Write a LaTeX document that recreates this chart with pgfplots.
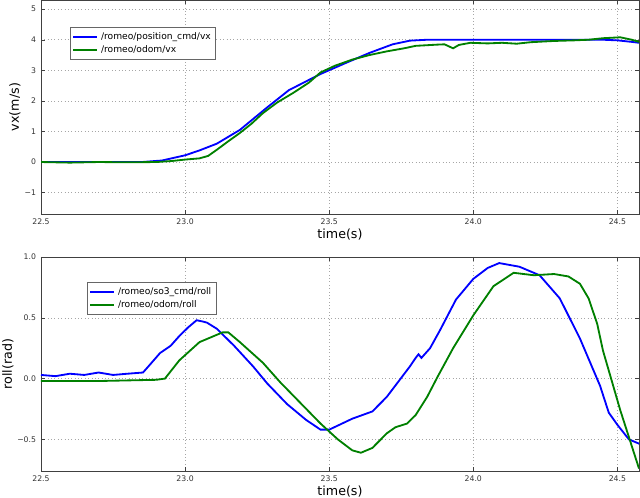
\documentclass[border=0pt]{standalone}
\usepackage{fontspec}
\setmainfont{DejaVu Sans}
\usepackage{pgfplots}
\pgfplotsset{compat=1.18}

\definecolor{mplblue}{RGB}{0,0,255}
\definecolor{mplgreen}{RGB}{0,128,0}

\pgfplotsset{
  robot/.style={
    scale only axis,
    width=14.95cm, height=5.35cm,
    anchor=south west,
    xmin=22.5, xmax=24.575,
    xtick={22.5,23.0,23.5,24.0,24.5},
    xticklabels={22.5,23.0,23.5,24.0,24.5},
    tick label style={font=\fontsize{5.5}{6.5}\selectfont, text=black!80},
    label style={font=\fontsize{9}{10}\selectfont},
    xlabel={time(s)},
    xlabel style={at={([yshift=-0.525cm]rel axis cs:0.5,0)}, anchor=center},
    grid=major,
    major grid style={dotted, gray!70},
    axis line style={black!75},
    tick style={black!75},
    major tick length=3pt,
    legend cell align=left,
    legend style={font=\fontsize{6.5}{7.5}\selectfont, draw=black!60,
      inner sep=1.5pt, row sep=-1pt},
    legend image post style={line width=1.3pt},
  },
}

\begin{document}
\begin{tikzpicture}
\path[use as bounding box] (0,0) rectangle (16cm,12.45cm);

\begin{axis}[robot,
  at={(1.025cm,7.1cm)},
  ymin=-1.7, ymax=5.3,
  ytick={-1,0,1,2,3,4,5},
  yticklabels={−1,0,1,2,3,4,5},
  ylabel={vx(m/s)},
  ylabel style={at={([xshift=-0.65cm]rel axis cs:0,0.5)}, anchor=center},
  legend style={at={(0.0485,0.874)}, anchor=north west},
]
\addplot[mplblue, line width=1.3pt] coordinates {
(22.5,0.0)(22.85,0.0)(22.92,0.05)(23.0,0.22)(23.05,0.38)(23.11,0.6)
(23.19,1.05)(23.28,1.75)(23.36,2.35)(23.47,2.88)(23.56,3.25)(23.64,3.57)
(23.72,3.85)(23.78,3.97)(23.84,4.0)(24.45,4.0)(24.5,3.98)(24.55,3.93)(24.575,3.9)
};
\addlegendentry{/romeo/position\_cmd/vx}
\addplot[mplgreen, line width=1.3pt] coordinates {
(22.5,0.0)(22.6,-0.02)(22.7,0.0)(22.8,-0.01)(22.9,0.0)(22.95,0.03)
(23.0,0.08)(23.05,0.12)(23.08,0.2)(23.11,0.4)(23.15,0.68)(23.19,0.95)
(23.23,1.25)(23.27,1.6)(23.32,1.95)(23.375,2.26)(23.43,2.6)(23.47,2.93)
(23.52,3.15)(23.58,3.35)(23.64,3.5)(23.70,3.62)(23.76,3.72)(23.80,3.80)
(23.875,3.84)(23.9,3.85)(23.93,3.72)(23.95,3.83)(23.99,3.9)(24.05,3.88)
(24.1,3.9)(24.15,3.87)(24.2,3.92)(24.28,3.96)(24.35,3.98)(24.4,4.0)
(24.45,4.05)(24.51,4.08)(24.55,4.0)(24.575,3.93)
};
\addlegendentry{/romeo/odom/vx}
\end{axis}

\begin{axis}[robot,
  at={(1.025cm,0.675cm)},
  ymin=-0.76, ymax=1.0,
  ytick={-0.5,0.0,0.5,1.0},
  yticklabels={−0.5,0.0,0.5,1.0},
  ylabel={roll(rad)},
  ylabel style={at={([xshift=-0.825cm]rel axis cs:0,0.5)}, anchor=center},
  legend style={at={(0.077,0.883)}, anchor=north west},
]
\addplot[mplblue, line width=1.3pt] coordinates {
(22.5,0.03)(22.55,0.02)(22.6,0.04)(22.65,0.03)(22.7,0.05)(22.75,0.03)
(22.8,0.04)(22.854,0.05)(22.88,0.12)(22.913,0.21)(22.95,0.27)(22.98,0.35)
(23.01,0.42)(23.04,0.48)(23.06,0.47)(23.076,0.46)(23.11,0.41)(23.17,0.27)
(23.236,0.1)(23.285,-0.04)(23.354,-0.21)(23.42,-0.34)(23.47,-0.42)(23.5,-0.42)
(23.58,-0.33)(23.65,-0.27)(23.70,-0.15)(23.78,0.1)(23.80,0.17)(23.81,0.2)
(23.82,0.17)(23.835,0.21)(23.85,0.25)(23.885,0.4)(23.94,0.65)(24.0,0.82)
(24.05,0.91)(24.09,0.95)(24.16,0.92)(24.23,0.85)(24.3,0.66)(24.37,0.33)
(24.44,-0.06)(24.47,-0.28)(24.5,-0.38)(24.54,-0.5)(24.58,-0.54)
};
\addlegendentry{/romeo/so3\_cmd/roll}
\addplot[mplgreen, line width=1.3pt] coordinates {
(22.5,-0.02)(22.7,-0.02)(22.9,-0.01)(22.93,0.0)(22.98,0.15)(23.05,0.30)
(23.13,0.38)(23.15,0.38)(23.19,0.3)(23.27,0.13)(23.33,-0.03)(23.40,-0.2)
(23.47,-0.37)(23.53,-0.5)(23.58,-0.59)(23.61,-0.61)(23.65,-0.57)(23.7,-0.45)
(23.73,-0.4)(23.77,-0.37)(23.80,-0.3)(23.84,-0.15)(23.875,0.01)(23.93,0.25)
(24.0,0.52)(24.07,0.76)(24.14,0.87)(24.21,0.85)(24.28,0.86)(24.33,0.84)
(24.37,0.78)(24.4,0.66)(24.43,0.45)(24.45,0.23)(24.51,-0.26)(24.575,-0.74)
};
\addlegendentry{/romeo/odom/roll}
\end{axis}
\end{tikzpicture}
\end{document}
